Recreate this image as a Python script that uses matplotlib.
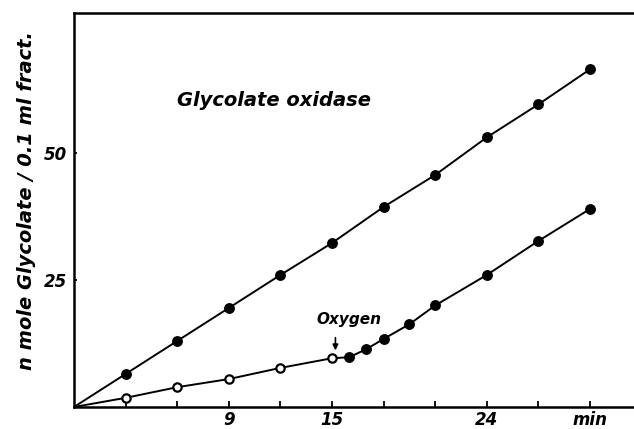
import matplotlib
matplotlib.use('Agg')
import matplotlib.pyplot as plt

# upper curve: glycolate oxidase, filled points
t_upper = [0, 3, 6, 9, 12, 15, 18, 21, 24, 27, 30]
y_upper = [0, 6.5, 13.0, 19.5, 26.0, 32.3, 39.4, 45.7, 53.1, 59.6, 66.5]

# lower curve: before oxygen (open) and after oxygen (filled)
t_open = [0, 3, 6, 9, 12, 15]
y_open = [0, 1.8, 3.9, 5.5, 7.7, 9.6]
t_oxy = [15, 16, 17, 18, 19.5, 21, 24, 27, 30]
y_oxy = [9.6, 9.8, 11.4, 13.4, 16.3, 20.0, 26.0, 32.7, 39.0]

xticks = [3, 6, 9, 12, 15, 18, 21, 24, 27, 30]
xticklabels = ['', '', '9', '', '15', '', '', '24', '', 'min']
yticks = [25, 50]

plt.rcParams['font.family'] = 'DejaVu Sans'

fig = plt.figure(figsize=(6.34, 4.29), dpi=100)
ax = fig.add_axes([0.1167, 0.0513, 0.8833, 0.9184])

lw = 1.4
ax.plot(t_upper, y_upper, '-', color='black', lw=lw)
ax.plot(t_upper[1:], y_upper[1:], 'o', color='black', ms=6.8, ls='none')

ax.plot(t_open, y_open, '-', color='black', lw=lw)
ax.plot(t_oxy, y_oxy, '-', color='black', lw=lw)
ax.plot(t_open[1:], y_open[1:], 'o', mfc='white', mec='black', mew=1.6,
        ms=6.0, ls='none', zorder=3)
ax.plot(t_oxy[1:], y_oxy[1:], 'o', color='black', ms=6.8, ls='none', zorder=3)

ax.set_xlim(0, 32.56)
ax.set_ylim(0, 77.6)

ax.spines['right'].set_visible(False)
for s in ['left', 'bottom', 'top']:
    ax.spines[s].set_linewidth(1.8)

ax.set_xticks(xticks)
ax.set_xticklabels(xticklabels)
ax.set_yticks(yticks)
ax.tick_params(axis='x', direction='in', length=4.5, width=1.3, pad=3,
               labelsize=12)
ax.tick_params(axis='y', direction='in', length=2.5, width=1.3, pad=5,
               labelsize=12)
for lab in ax.get_xticklabels() + ax.get_yticklabels():
    lab.set_style('italic')
    lab.set_fontweight('bold')

ax.set_ylabel('n mole Glycolate / 0.1 ml fract.', fontsize=14,
              style='italic', fontweight='bold')
ax.yaxis.set_label_coords(-0.068, 0.523)

ax.text(11.6, 60.3, 'Glycolate oxidase', fontsize=14, style='italic',
        fontweight='bold', ha='center', va='center')

ax.text(16.0, 17.3, 'Oxygen', fontsize=11, style='italic',
        fontweight='bold', ha='center', va='center')
ax.annotate('', xy=(15.2, 10.6), xytext=(15.2, 14.2),
            arrowprops=dict(arrowstyle='-|>', color='black', lw=1.2,
                            mutation_scale=8))

fig.savefig('out.png', dpi=100)
